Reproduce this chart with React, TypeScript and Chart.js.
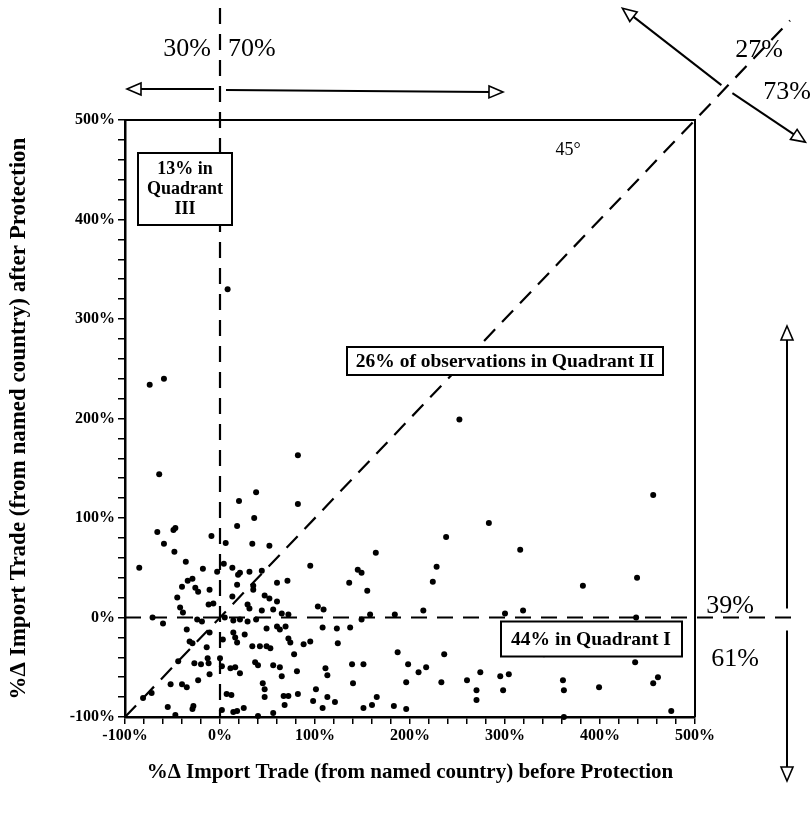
import React, { useEffect, useRef } from 'react';
import { Chart, registerables } from 'chart.js';

Chart.register(...registerables);

// %Δ import trade before protection (x) and after protection (y), in percent
const importBefore = [
  8, -74, -59, -64, 82, 20, 38, 82, 36, -66, -49, -47, -59, -48, -9, 18, -85, -36, -18, 6,
  4, 13, 19, -3, -29, -34, -40, -26, -23, -11, -45, 34, 52, 31, 21, 44, 95, 145, 60, 71,
  136, 35, 35, 47, 18, 13, 149, -42, -39, -12, -7, 29, 31, 52, 60, 44, 56, 65, 72, 103,
  109, -71, -60, -24, -19, 5, 14, 21, 29, 38, 49, 60, 63, 69, 108, 123, 137, 149, -35, -32,
  -29, -14, -11, 14, 16, 18, 26, 3, 34, 42, 49, 53, 72, 74, 88, 95, 124, 78, -27, -20,
  -12, -13, 0, 2, 11, 16, 21, 37, 40, 56, 63, 65, 81, 111, 113, 139, 151, -11, -23, -44,
  -52, -40, -35, -72, -81, 45, 47, 47, 7, 12, 67, 72, 82, 101, 113, 121, 98, 68, -55, -29,
  -28, 2, 14, 18, 25, 108, 56, 40, -47, 151, 252, 456, 283, 238, 164, 316, 228, 155, 224, 382,
  439, 158, 184, 214, 300, 319, 438, 187, 236, 198, 209, 217, 341, 437, 140, 196, 233, 260, 274, 295,
  304, 270, 298, 270, 361, 362, 399, 456, 461, 165, 160, 183, 196, 362, 475,
];
const importAfter = [
  330, 234, 240, 144, 163, 117, 126, 114, 100, 86, 88, 90, 74, 66, 82, 92, 50, 56, 49, 75,
  54, 50, 43, 46, 39, 37, 31, 30, 26, 28, 20, 74, 72, 46, 45, 47, 52, 48, 35, 37,
  35, 32, 28, 22, 33, 21, 45, 10, 5, 13, 14, 13, 9, 19, 16, 7, 8, 4, 3, 11,
  8, 0, -6, -2, -4, 0, -3, -2, -4, -2, -11, -9, -12, -9, -10, -11, -10, -2, -12, -24,
  -26, -30, -15, -15, -20, -25, -17, -22, -29, -29, -29, -31, -21, -25, -27, -24, -26, -37, -46, -47,
  -46, -41, -41, -49, -51, -50, -56, -45, -48, -48, -50, -59, -54, -51, -58, -47, -47, -57, -63, -44,
  -67, -67, -70, -76, -81, -66, -72, -80, -77, -78, -79, -79, -77, -72, -80, -85, -84, -88, -90, -92,
  -89, -93, -95, -94, -91, -91, -96, -99, -98, -91, 199, 123, 95, 81, 65, 68, 51, 27, 36, 32,
  40, 3, 3, 7, 4, 7, 0, -35, -37, -47, -55, -50, -37, -45, -66, -65, -65, -63, -55, -59,
  -57, -73, -73, -83, -63, -73, -70, -66, -60, -80, -88, -89, -92, -100, -94,
];

const axisMin = -100;
const axisMax = 500;
const tickStep = 20;
const xTitle = '%\u0394 Import Trade (from named country) before Protection';
const yTitle = '%\u0394 Import Trade (from named country) after Protection';
const box3Lines = ['13% in', 'Quadrant', 'III'];
const box2Text = '26% of observations in Quadrant II';
const box1Text = '44% in Quadrant I';
const shareLeft = '30%';
const shareRight = '70%';
const shareAboveDiag = '27%';
const shareBelowDiag = '73%';
const shareAboveZero = '39%';
const shareBelowZero = '61%';
const angleLabel = '45\u00b0';

const SERIF = '"Liberation Serif", "DejaVu Serif", serif';

function openHead(ctx: CanvasRenderingContext2D, tx: number, ty: number, fx: number, fy: number, len = 14, half = 6) {
  const dx = tx - fx, dy = ty - fy;
  const d = Math.hypot(dx, dy) || 1;
  const ux = dx / d, uy = dy / d;
  const bx = tx - ux * len, by = ty - uy * len;
  ctx.beginPath();
  ctx.moveTo(tx, ty);
  ctx.lineTo(bx - uy * half, by + ux * half);
  ctx.lineTo(bx + uy * half, by - ux * half);
  ctx.closePath();
  ctx.fillStyle = '#fff';
  ctx.fill();
  ctx.stroke();
}

function arrow(ctx: CanvasRenderingContext2D, x1: number, y1: number, x2: number, y2: number) {
  ctx.lineWidth = 2;
  ctx.strokeStyle = '#000';
  ctx.setLineDash([]);
  const dx = x2 - x1, dy = y2 - y1;
  const d = Math.hypot(dx, dy);
  const ex = x2 - (dx / d) * 13, ey = y2 - (dy / d) * 13;
  ctx.beginPath();
  ctx.moveTo(x1, y1);
  ctx.lineTo(ex, ey);
  ctx.stroke();
  ctx.lineWidth = 1.6;
  openHead(ctx, x2, y2, x1, y1);
}

const annotations = {
  id: 'annotations',
  afterDatasetsDraw(chart: any) {
    const ctx: CanvasRenderingContext2D = chart.ctx;
    const xs = chart.scales.x, ys = chart.scales.y;
    const px = (v: number) => xs.getPixelForValue(v);
    const py = (v: number) => ys.getPixelForValue(v);
    const { left, right, top, bottom } = chart.chartArea;
    ctx.save();
    ctx.strokeStyle = '#000';

    // frame top & right
    ctx.lineWidth = 2;
    ctx.setLineDash([]);
    ctx.beginPath();
    ctx.moveTo(left - 1, top);
    ctx.lineTo(right, top);
    ctx.lineTo(right, bottom);
    ctx.stroke();

    // dashed reference lines
    ctx.lineWidth = 2.2;
    ctx.setLineDash([16, 10]);
    ctx.beginPath();
    ctx.moveTo(px(0), 8);
    ctx.lineTo(px(0), bottom);
    ctx.stroke();
    ctx.beginPath();
    ctx.moveTo(left, py(0));
    ctx.lineTo(797, py(0));
    ctx.stroke();
    ctx.beginPath();
    ctx.moveTo(px(-100), py(-100));
    ctx.lineTo(px(600), py(600));
    ctx.stroke();
    ctx.setLineDash([]);

    // top horizontal arrows
    const ay = top - 31;
    arrow(ctx, px(0) - 6, ay, left + 2, ay);
    arrow(ctx, px(0) + 6, ay + 1, 503, ay + 3);

    // diagonal perpendicular arrow
    const Px = px(532), Py = py(532);
    arrow(ctx, Px - 4, Py - 3, Px - 103, Py - 80);
    arrow(ctx, Px + 7, Py + 5, Px + 80, Py + 54);

    // right vertical arrow
    const vx = 787;
    arrow(ctx, vx, py(0) - 9, vx, 326);
    arrow(ctx, vx, py(0) + 13, vx, 781);

    // big percentage labels
    ctx.fillStyle = '#000';
    ctx.font = `26px ${SERIF}`;
    ctx.textBaseline = 'middle';
    ctx.textAlign = 'right';
    ctx.fillText(shareLeft, px(0) - 9, 49);
    ctx.textAlign = 'left';
    ctx.fillText(shareRight, px(0) + 8, 49);
    ctx.textAlign = 'center';
    ctx.fillText(shareAboveDiag, 759, 50);
    ctx.fillText(shareBelowDiag, 787, 92);
    ctx.fillText(shareAboveZero, 730, 606);
    ctx.fillText(shareBelowZero, 735, 659);

    ctx.font = `18px ${SERIF}`;
    ctx.fillText(angleLabel, 568, 150);

    // boxes
    const box = (x: number, y: number, w: number, h: number) => {
      ctx.fillStyle = '#fff';
      ctx.fillRect(x, y, w, h);
      ctx.lineWidth = 2;
      ctx.strokeStyle = '#000';
      ctx.strokeRect(x, y, w, h);
      ctx.fillStyle = '#000';
    };
    ctx.font = `bold 18px ${SERIF}`;
    box(138, 153, 94, 72);
    box3Lines.forEach((t, i) => ctx.fillText(t, 185, 169 + i * 20));
    ctx.font = `bold 19.5px ${SERIF}`;
    box(347, 347, 316, 28);
    ctx.fillText(box2Text, 505, 362);
    box(501, py(0) + 4, 181, 35);
    ctx.fillText(box1Text, 591, py(0) + 22);

    ctx.restore();
  },
};

const tickCb = (v: any) => (Number(v) % 100 === 0 ? `${v}%` : '');

export default function App() {
  const ref = useRef<HTMLCanvasElement>(null);
  useEffect(() => {
    if (!ref.current) return;
    const points = importBefore.map((x, i) => ({ x, y: importAfter[i] }));
    const axisCommon = {
      type: 'linear' as const,
      min: axisMin,
      max: axisMax,
      grid: {
        display: true,
        drawOnChartArea: false,
        drawTicks: true,
        tickLength: 7,
        color: '#000',
        lineWidth: 1.5,
      },
      border: { display: true, color: '#000', width: 2.5 },
    };
    const chart = new Chart(ref.current, {
      type: 'scatter',
      data: {
        datasets: [
          {
            data: points,
            backgroundColor: '#000',
            borderWidth: 0,
            pointRadius: 3,
            clip: false as any,
          },
        ],
      },
      options: {
        animation: false,
        responsive: false,
        devicePixelRatio: 1,
        layout: { padding: { left: 0, top: 120, right: 116, bottom: 0 } },
        plugins: { legend: { display: false }, tooltip: { enabled: false } },
        scales: {
          x: {
            ...axisCommon,
            position: 'bottom',
            ticks: {
              stepSize: tickStep,
              autoSkip: false,
              maxRotation: 0,
              padding: 2,
              color: '#000',
              font: { family: SERIF, size: 16, weight: 'bold' },
              callback: tickCb,
            },
            title: {
              display: true,
              text: xTitle,
              color: '#000',
              font: { family: SERIF, size: 21, weight: 'bold' },
              padding: { top: 0, bottom: 31 },
            },
            afterFit: (s: any) => {
              s.height = 99;
            },
          },
          y: {
            ...axisCommon,
            position: 'left',
            ticks: {
              stepSize: tickStep,
              autoSkip: false,
              padding: 3,
              color: '#000',
              font: { family: SERIF, size: 16, weight: 'bold' },
              callback: tickCb,
            },
            title: {
              display: true,
              text: yTitle,
              color: '#000',
              font: { family: SERIF, size: 23, weight: 'bold' },
              padding: { top: 5, bottom: 0 },
            },
            afterFit: (s: any) => {
              s.width = 125;
            },
          },
        },
      },
      plugins: [annotations],
    });
    return () => chart.destroy();
  }, []);
  return (
    <div style={{ position: 'fixed', left: 0, top: 0, width: 811, height: 816, background: '#fff' }}>
      <canvas ref={ref} width={811} height={816} />
    </div>
  );
}
